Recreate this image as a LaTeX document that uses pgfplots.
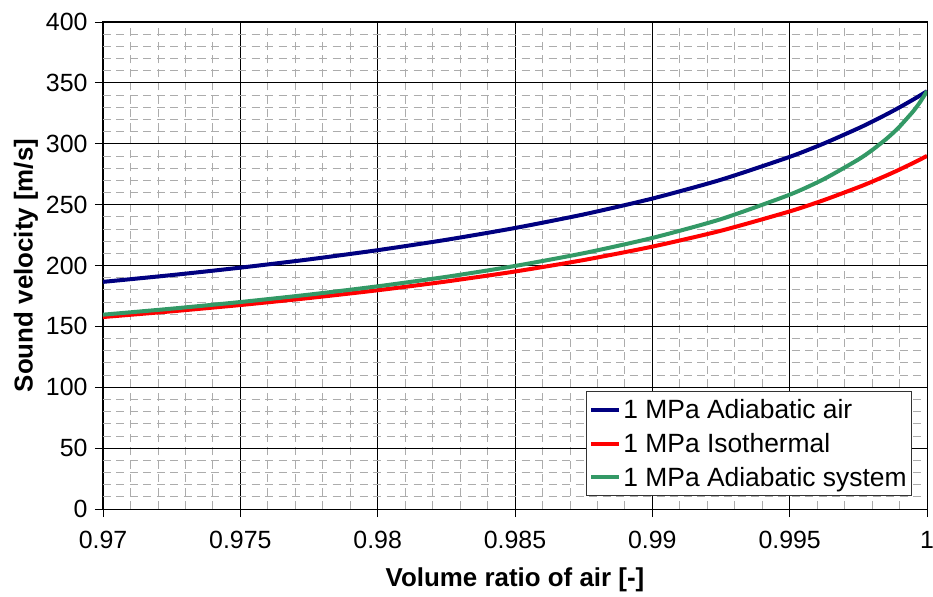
\documentclass[border=0pt]{standalone}
\usepackage{pgfplots}
\pgfplotsset{compat=1.18}
\usepackage{pgfplotstable}
\usepackage{fontspec}
\setmainfont{Liberation Sans}

\definecolor{airblue}{RGB}{0,0,128}
\definecolor{isored}{RGB}{255,0,0}
\definecolor{sysgreen}{RGB}{51,153,102}

% Sound velocity of an air-water mixture at 1 MPa
% alpha = volume ratio of air
\pgfplotstableread{
alpha    air     iso     sys
0.97     186.55  157.66  159.60
0.9725   192.11  162.36  164.54
0.975    198.23  167.53  169.99
0.9775   205.01  173.27  176.07
0.98     212.58  179.66  182.90
0.9825   221.11  186.87  190.68
0.985    230.80  195.06  199.62
0.9875   241.96  204.49  210.10
0.99     254.98  215.50  222.64
0.9925   270.45  228.57  238.10
0.995    289.22  244.43  258.17
0.99625  300.25  253.76  271.03
0.9975   312.69  264.27  287.03
0.998    318.12  268.86  294.75
0.9985   323.85  273.70  303.60
0.99875  326.84  276.23  308.58
0.999    329.91  278.82  314.02
0.9995   336.32  284.24  326.71
0.99975  339.68  287.08  334.31
1.0      343.14  290.01  343.14
}\soundtable

\begin{document}
\begin{tikzpicture}
\begin{axis}[
  name=ax,
  scale only axis,
  width=824bp, height=487bp,
  xmin=0.97, xmax=1, ymin=0, ymax=400,
  xtick={0.97,0.975,0.98,0.985,0.99,0.995,1},
  xticklabels={0.97,0.975,0.98,0.985,0.99,0.995,1},
  ytick={0,50,100,150,200,250,300,350,400},
  scaled x ticks=false,
  minor x tick num=4,
  minor y tick num=4,
  grid=both,
  major grid style={black, line width=0.8bp},
  minor grid style={gray!65, line width=0.8bp, dash pattern=on 8bp off 5.5bp},
  tick pos=left,
  tick align=outside,
  major tick length=8bp,
  minor tick length=0bp,
  tick style={black, line width=0.8bp},
  axis line style={black, line width=1bp},
  /pgf/number format/assume math mode=true,
  ticklabel style={font=\fontsize{25}{30}\selectfont},
  xticklabel style={yshift=-11bp},
  yticklabel style={xshift=-4bp},
  xlabel={Volume ratio of air [-]},
  ylabel={Sound velocity [m/s]},
  every axis x label/.style={at={(axis description cs:0.5,0)}, anchor=center,
    yshift=-71bp, font=\fontsize{26}{31}\selectfont\bfseries},
  every axis y label/.style={at={(axis description cs:0,0.5)}, anchor=center,
    xshift=-77bp, rotate=90, font=\fontsize{26}{31}\selectfont\bfseries},
  legend cell align=left,
  legend style={
    at={(1,0)}, anchor=south east, xshift=-15bp, yshift=13bp,
    draw=black!80, line width=0.8bp, fill=white,
    font=\fontsize{26.5}{31}\selectfont,
    inner xsep=3bp, inner ysep=6bp,
    row sep=9bp,
  },
  legend image code/.code={\draw[#1, line width=4bp] (0bp,0bp) -- (28bp,0bp);},
]
\addplot[airblue, line width=4bp, smooth, tension=0.4] table[x=alpha, y=air] {\soundtable};
\addlegendentry{1 MPa Adiabatic air}
\addplot[isored, line width=4bp, smooth, tension=0.4] table[x=alpha, y=iso] {\soundtable};
\addlegendentry{1 MPa Isothermal}
\addplot[sysgreen, line width=4bp, smooth, tension=0.4] table[x=alpha, y=sys] {\soundtable};
\addlegendentry{1 MPa Adiabatic system}
\end{axis}
\pgfresetboundingbox
\path[use as bounding box] ([shift={(-103bp,-88bp)}]ax.south west) rectangle ([shift={(6bp,22bp)}]ax.north east);
\end{tikzpicture}
\end{document}
